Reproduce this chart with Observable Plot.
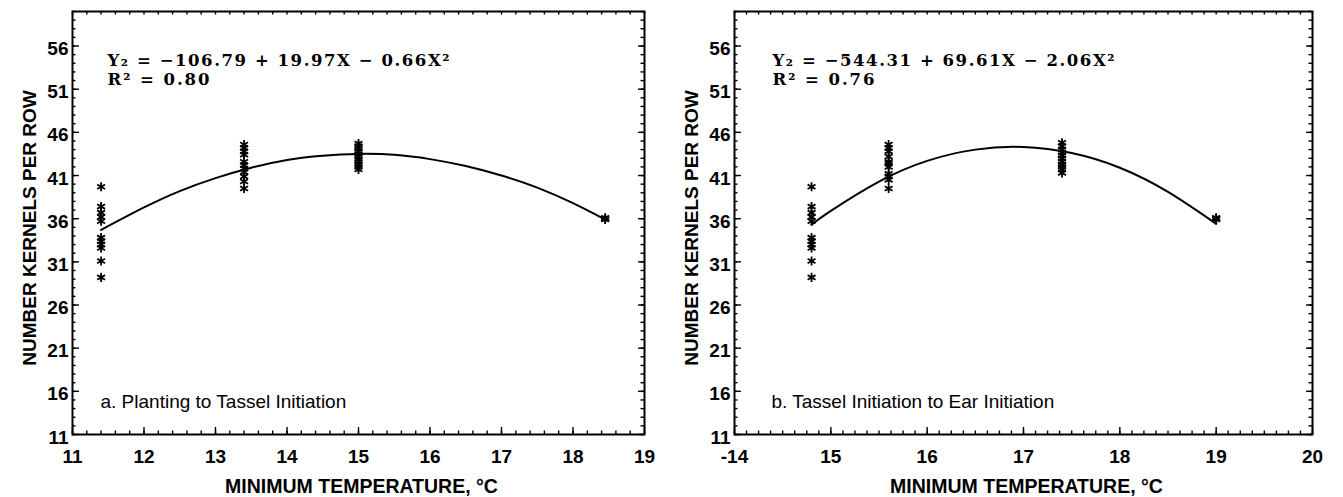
<!DOCTYPE html>
<html><head><meta charset="utf-8">
<script src="https://cdn.jsdelivr.net/npm/d3@7"></script>
<script src="https://cdn.jsdelivr.net/npm/@observablehq/plot@0.6"></script>
<style>
body{margin:0;background:#fff;}
#wrap{display:flex;width:1343px;height:497px;overflow:hidden;}
#wrap svg{display:block;flex:none;}
</style></head><body><div id="wrap"></div>
<script>
// ---------- data ----------
const yTicks = [11, 16, 21, 26, 31, 36, 41, 46, 51, 56];
const yTickLabels = ["11", "16", "21", "26", "31", "36", "41", "46", "51", "56"];
const yDomain = [11, 60];

// Panel a
const xTicksA = [11, 12, 13, 14, 15, 16, 17, 18, 19];
const xTickLabelsA = ["11", "12", "13", "14", "15", "16", "17", "18", "19"];
const tempsA = [11.4, 13.4, 15.0, 18.45];
const kernelsA = [
  [39.7, 37.4, 36.7, 36.2, 35.7, 33.8, 33.4, 33.0, 32.6, 31.1, 29.2],
  [44.6, 44.2, 43.8, 43.4, 42.6, 42.2, 41.8, 41.4, 40.9, 40.3, 39.5],
  [44.7, 44.4, 44.1, 43.8, 43.5, 43.2, 42.9, 42.6, 42.3, 42.0, 41.7],
  [36.1, 36.0, 35.9]
];
const fitXA = [11.4, 12, 12.5, 13, 13.5, 14, 14.5, 15, 15.5, 16, 16.5, 17, 17.5, 18, 18.45];
const fitYA = [34.7, 37.3, 39.2, 40.7, 41.9, 42.8, 43.3, 43.5, 43.4, 42.9, 42.1, 41.0, 39.6, 37.8, 35.9];
const eqA = ["Y\u2082 = \u2212106.79 + 19.97X \u2212 0.66X\u00B2", "R\u00B2 = 0.80"];
const labelA = "a. Planting to Tassel Initiation";

// Panel b
const xTicksB = [14, 15, 16, 17, 18, 19, 20];
const xTickLabelsB = ["-14", "15", "16", "17", "18", "19", "20"];
const tempsB = [14.8, 15.6, 17.4, 19.0];
const kernelsB = [
  [39.7, 37.4, 36.7, 36.2, 35.7, 33.8, 33.4, 33.0, 32.6, 31.1, 29.2],
  [44.6, 44.2, 43.8, 43.2, 42.6, 42.4, 42.0, 41.2, 40.9, 40.5, 39.5],
  [44.8, 44.4, 44.0, 43.7, 43.3, 43.0, 42.6, 42.3, 42.0, 41.7, 41.3],
  [36.1, 36.0, 35.9]
];
const fitXB = [14.8, 15, 15.5, 16, 16.5, 17, 17.5, 18, 18.5, 19];
const fitYB = [35.3, 36.9, 40.3, 42.7, 44.0, 44.3, 43.6, 41.9, 39.1, 35.4];
const eqB = ["Y\u2082 = \u2212544.31 + 69.61X \u2212 2.06X\u00B2", "R\u00B2 = 0.76"];
const labelB = "b. Tassel Initiation to Ear Initiation";

const yTitle = "NUMBER KERNELS PER ROW";
const xTitle = "MINIMUM TEMPERATURE, \u00B0C";

// ---------- drawing ----------
const H = 497, MT = 11, MB = 63;
const innerH = H - MT - MB;

function steps(a, b, step) {
  const n = Math.round((b - a) / step);
  return d3.range(n + 1).map(i => +(a + i * step).toFixed(4));
}

function panel(cfg) {
  const pts = [];
  cfg.temps.forEach((t, i) => cfg.kernels[i].forEach(k => pts.push({t, k})));
  const fit = cfg.fitX.map((x, i) => ({x, y: cfg.fitY[i]}));
  const xMinor = steps(cfg.xTicks[0], cfg.xTicks[cfg.xTicks.length - 1], cfg.minorStep);
  const yMinor = steps(yDomain[0], yDomain[1], 1);
  const innerW = cfg.width - cfg.ml - cfg.mr;
  const tk = {stroke: "#000", strokeWidth: 1.4};
  const minor = 3.5, major = 7;
  const eqFont = 16.5;
  const svg = Plot.plot({
    width: cfg.width, height: H,
    marginLeft: cfg.ml, marginRight: cfg.mr, marginTop: MT, marginBottom: MB,
    style: {fontFamily: "'Liberation Sans', Arial, sans-serif", color: "#000", background: "#fff", overflow: "visible"},
    x: {domain: cfg.xDomain, axis: null},
    y: {domain: yDomain, axis: null},
    marks: [
      // inward ticks on the four sides
      Plot.tickX(xMinor, {x: d => d, insetTop: innerH - minor, ...tk}),
      Plot.tickX(cfg.xTicks, {x: d => d, insetTop: innerH - major, ...tk}),
      Plot.tickX(xMinor, {x: d => d, insetBottom: innerH - minor, ...tk}),
      Plot.tickY(yMinor, {y: d => d, insetRight: innerW - minor, ...tk}),
      Plot.tickY(yTicks, {y: d => d, insetRight: innerW - major, ...tk}),
      Plot.tickY(yMinor, {y: d => d, insetLeft: innerW - minor, ...tk}),
      Plot.tickY(yTicks, {y: d => d, insetLeft: innerW - 6, ...tk}),
      // tick labels
      Plot.text(cfg.xTicks, {x: d => d, text: (d, i) => cfg.xLabels[i], frameAnchor: "bottom", dy: 15,
        lineAnchor: "top", fontSize: 19, fontWeight: "bold"}),
      Plot.text(yTicks, {y: d => d, text: (d, i) => yTickLabels[i], frameAnchor: "left", dx: -4, dy: 3,
        textAnchor: "end", fontSize: 19, fontWeight: "bold"}),
      Plot.frame({stroke: "#000", strokeWidth: 2}),
      // fitted curve and observations
      Plot.line(fit, {x: "x", y: "y", curve: "natural", stroke: "#000", strokeWidth: 2}),
      Plot.dot(pts, {x: "t", y: "k", symbol: "asterisk", r: 4.3, stroke: "#000", strokeWidth: 1.8}),
      // equation (two lines in one text)
      Plot.text([cfg.eq.join("\n")], {frameAnchor: "top-left", dx: cfg.eqDx, dy: 52 - 0.71 * eqFont, lineAnchor: "top",
        lineHeight: 19.5 / eqFont, textAnchor: "start",
        fontFamily: "'DejaVu Serif', 'Liberation Serif', serif", fontWeight: "bold", fontSize: eqFont, className: "eq"}),
      // panel label
      Plot.text([cfg.label], {frameAnchor: "bottom-left", dx: cfg.labelDx, dy: -27, lineAnchor: "bottom", textAnchor: "start",
        fontSize: 19}),
      // axis titles
      Plot.text([yTitle], {frameAnchor: "left", rotate: -90, dx: -43, dy: 5, fontSize: 19, fontWeight: "bold", textAnchor: "middle"}),
      Plot.text([xTitle], {frameAnchor: "bottom", dx: 3, dy: 58, lineAnchor: "bottom", fontSize: 19.5, fontWeight: "bold"})
    ]
  });
  const ts = d3.select(svg).selectAll(".eq tspan");
  ts.each(function(d, i) {
    d3.select(this).attr("textLength", i === 0 ? 342 : 102).attr("lengthAdjust", "spacing");
  });
  return svg;
}

const wrap = document.getElementById("wrap");
wrap.append(panel({
  width: 660, ml: 72, mr: 16, xDomain: [11, 19], xTicks: xTicksA, xLabels: xTickLabelsA, minorStep: 0.2,
  temps: tempsA, kernels: kernelsA, fitX: fitXA, fitY: fitYA, eq: eqA, eqDx: 35, label: labelA, labelDx: 28
}));
wrap.append(panel({
  width: 683, ml: 74, mr: 31, xDomain: [14, 20], xTicks: xTicksB, xLabels: xTickLabelsB, minorStep: 0.125,
  temps: tempsB, kernels: kernelsB, fitX: fitXB, fitY: fitYB, eq: eqB, eqDx: 38, label: labelB, labelDx: 37
}));
</script></body></html>
